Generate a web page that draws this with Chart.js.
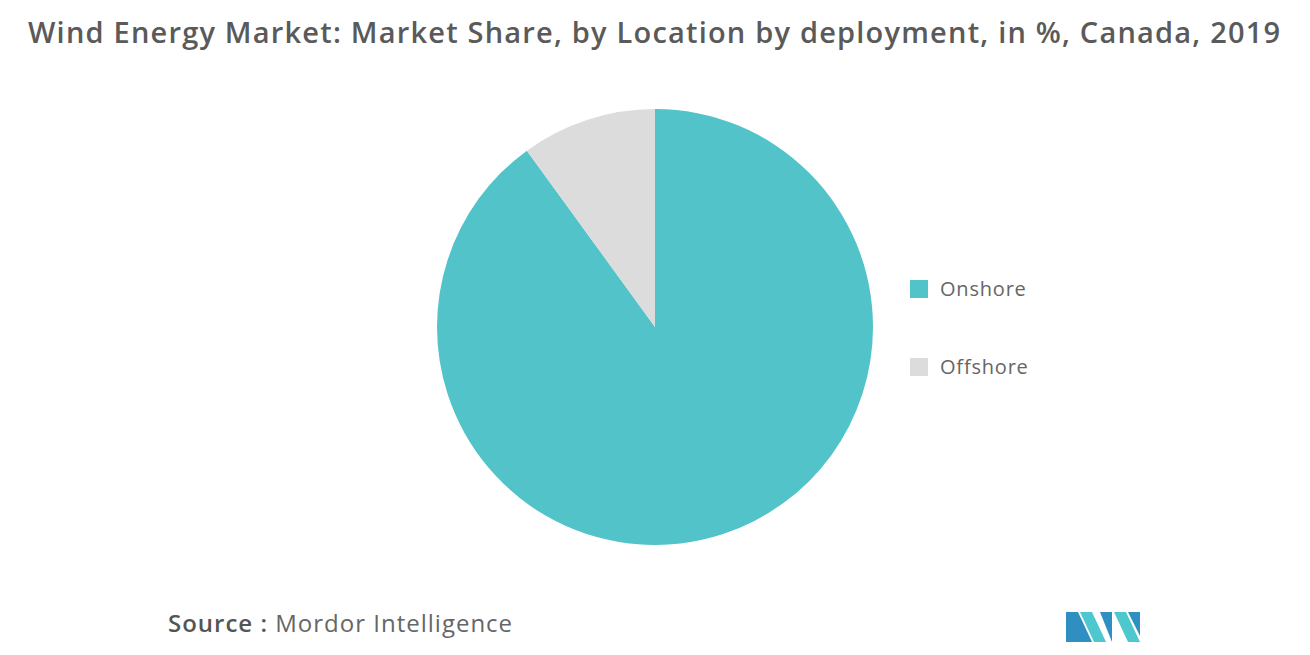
<!DOCTYPE html>
<html><head><meta charset="utf-8">
<script src="https://cdn.jsdelivr.net/npm/chart.js"></script>
<style>
body{margin:0;width:1310px;height:655px;background:#fff;font-family:"Open Sans",Lato,sans-serif;position:relative;overflow:hidden}
#t{position:absolute;left:28px;top:12px;font-size:29px;font-weight:600;color:#5a5a5a;white-space:nowrap;letter-spacing:1.2px}
#c{position:absolute;left:437px;top:109px;width:436px;height:436px}
.lg{position:absolute;left:910px;font-size:20px;color:#666;display:flex;align-items:center;letter-spacing:0.8px}
.lg span{display:inline-block;width:18px;height:18px;margin-right:12px}
#s{position:absolute;left:168px;top:606px;font-size:24px;color:#666;letter-spacing:1px}
#s b{color:#555;font-weight:600}
</style></head><body>
<div id="t">Wind Energy Market: Market Share, by Location by deployment, in %, Canada, 2019</div>
<div id="c"><canvas id="cv"></canvas></div>
<div id="lg"></div>
<div id="s"><b>Source :</b> Mordor Intelligence</div>
<svg style="position:absolute;left:1066px;top:606px" width="76" height="38">
<polygon points="0,36 0,6 12,6 26,36" fill="#2f8fc0"/>
<polygon points="14,6 26,6 40,36 28,36" fill="#4ec8cf"/>
<polygon points="34,6 46,6 46,36" fill="#2f8fc0"/>
<polygon points="48,6 60,6 74,36 62,36" fill="#4ec8cf"/>
<polygon points="62,6 74,6 74,30" fill="#2f8fc0"/>
</svg>
<script>
const categories=["Onshore","Offshore"];
const values=[90,10];
const colors=["#52c3c9","#dcdcdc"];
new Chart(document.getElementById('cv'),{type:'pie',
data:{labels:categories,datasets:[{data:values,backgroundColor:colors,borderWidth:0}]},
options:{responsive:true,maintainAspectRatio:false,animation:false,layout:{padding:0},
plugins:{legend:{display:false},tooltip:{enabled:false}}}});
const lg=document.getElementById('lg');
categories.forEach((c,i)=>{const d=document.createElement('div');d.className='lg';d.style.top=(275+i*78)+'px';
d.innerHTML='<span style="background:'+colors[i]+'"></span>'+c;lg.appendChild(d);});
</script></body></html>
